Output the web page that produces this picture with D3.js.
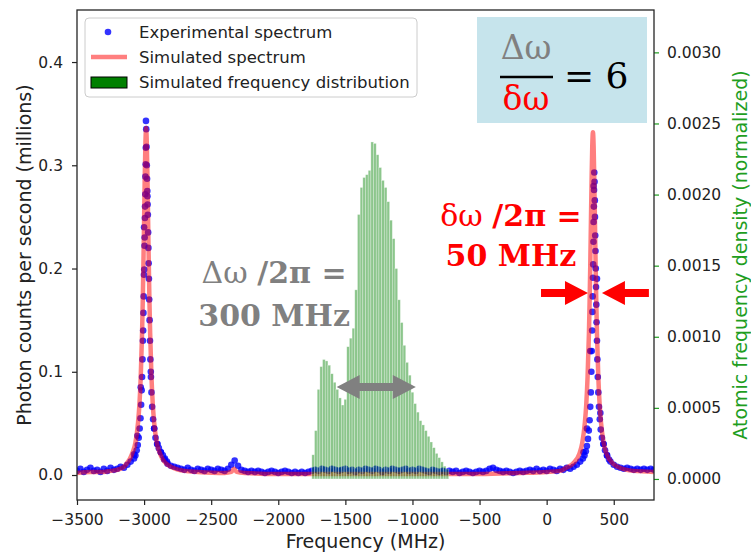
<!DOCTYPE html>
<html>
<head>
<meta charset="utf-8">
<script src="https://cdn.jsdelivr.net/npm/d3@7"></script>
<style>
  body { margin: 0; background: #fff; }
  text { font-family: "DejaVu Sans", sans-serif; }
</style>
</head>
<body>
<div id="chart"></div>
<script>
// ---- data ----

// experimental sweep, one point every 25 MHz from -3500 to 800 MHz
var sweepStart = -3500, sweepStep = 25;
var expSweepCounts = [
  0.004, 0.006, 0.003, 0.005, 0.007, 0.004, 0.005, 0.003,
  0.006, 0.004, 0.007, 0.005, 0.006, 0.008, 0.007, 0.010,
  0.013, 0.020, 0.038, 0.085, 0.240, 0.270, 0.100, 0.045,
  0.030, 0.022, 0.015, 0.011, 0.009, 0.008, 0.007, 0.006,
  0.005, 0.007, 0.005, 0.004, 0.006, 0.005, 0.004, 0.006,
  0.005, 0.004, 0.006, 0.005, 0.004, 0.006, 0.010, 0.014,
  0.009, 0.005, 0.004, 0.003, 0.004, 0.003, 0.004, 0.003,
  0.002, 0.003, 0.004, 0.003, 0.002, 0.003, 0.004, 0.003,
  0.002, 0.003, 0.002, 0.003, 0.002, 0.003, 0.004, 0.005,
  0.004, 0.006, 0.005, 0.004, 0.006, 0.005, 0.004, 0.005,
  0.006, 0.004, 0.005, 0.003, 0.005, 0.004, 0.006, 0.005,
  0.004, 0.006, 0.005, 0.003, 0.005, 0.004, 0.006, 0.005,
  0.004, 0.005, 0.006, 0.004, 0.005, 0.004, 0.006, 0.005,
  0.004, 0.003, 0.005, 0.004, 0.003, 0.004, 0.003, 0.004,
  0.003, 0.004, 0.002, 0.003, 0.004, 0.003, 0.002, 0.003,
  0.004, 0.003, 0.004, 0.006, 0.007, 0.005, 0.004, 0.003,
  0.004, 0.003, 0.002, 0.003, 0.004, 0.003, 0.004, 0.005,
  0.004, 0.006, 0.004, 0.005, 0.004, 0.006, 0.005, 0.004,
  0.006, 0.005, 0.007, 0.006, 0.008, 0.010, 0.013, 0.022,
  0.045, 0.120, 0.280, 0.190, 0.060, 0.030, 0.019, 0.013,
  0.010, 0.008, 0.007, 0.006, 0.007, 0.006, 0.005, 0.006,
  0.005, 0.006, 0.005, 0.006, 0.005
];

// fine scans over the two resonances [MHz, millions of counts/s]
var leftPeakScan = [
  [-3075, 0.016], [-3065, 0.019], [-3055, 0.024], [-3047, 0.029], [-3040, 0.036],
  [-3033, 0.045], [-3027, 0.055], [-3022, 0.068], [-3018, 0.082], [-3015, 0.095],
  [-3012, 0.112], [-3009, 0.130], [-3007, 0.140], [-3005, 0.157], [-3003, 0.173],
  [-3001, 0.194], [-2999, 0.199], [-2997, 0.222], [-2996, 0.230], [-2994, 0.249],
  [-2993, 0.260], [-2991, 0.272], [-2990, 0.289], [-2988, 0.301], [-2987, 0.317],
  [-2986, 0.343], [-2984, 0.335], [-2982, 0.318], [-2980, 0.300], [-2978, 0.287],
  [-2976, 0.275], [-2974, 0.262], [-2972, 0.252], [-2970, 0.235], [-2968, 0.220],
  [-2966, 0.205], [-2964, 0.190], [-2962, 0.170], [-2959, 0.150], [-2956, 0.130],
  [-2953, 0.112], [-2949, 0.095], [-2945, 0.080], [-2940, 0.066], [-2933, 0.054],
  [-2925, 0.045], [-2915, 0.036], [-2903, 0.030], [-2890, 0.026], [-2875, 0.022],
  [-2860, 0.019], [-2845, 0.016], [-2830, 0.013]
];
var rightPeakScan = [
  [270, 0.016], [282, 0.019], [292, 0.023], [300, 0.028], [308, 0.035],
  [314, 0.043], [320, 0.053], [325, 0.066], [329, 0.080], [333, 0.100],
  [336, 0.120], [339, 0.140], [341, 0.158], [343, 0.173], [345, 0.191],
  [347, 0.204], [349, 0.226], [350, 0.245], [352, 0.260], [353, 0.276],
  [355, 0.293], [357, 0.284], [359, 0.266], [360, 0.250], [362, 0.232],
  [364, 0.217], [366, 0.200], [368, 0.182], [370, 0.165], [372, 0.148],
  [375, 0.130], [378, 0.112], [381, 0.095], [385, 0.080], [390, 0.066],
  [396, 0.054], [403, 0.044], [412, 0.036], [422, 0.030], [435, 0.024],
  [450, 0.019], [465, 0.015]
];

// simulated spectrum [MHz, millions of counts/s]
var simSpectrum = [
  [-3500, 0.002], [-3400, 0.003], [-3300, 0.003], [-3250, 0.004], [-3200, 0.005],
  [-3150, 0.008], [-3125, 0.012], [-3105, 0.016], [-3085, 0.022], [-3065, 0.031],
  [-3045, 0.051], [-3035, 0.068], [-3025, 0.095], [-3015, 0.138], [-3010, 0.168],
  [-3005, 0.205], [-3000, 0.246], [-2995, 0.289], [-2990, 0.322], [-2985, 0.336],
  [-2980, 0.322], [-2975, 0.289], [-2970, 0.246], [-2965, 0.205], [-2960, 0.168],
  [-2955, 0.138], [-2945, 0.095], [-2935, 0.068], [-2925, 0.051], [-2905, 0.031],
  [-2885, 0.022], [-2865, 0.016], [-2835, 0.011], [-2785, 0.007], [-2700, 0.004],
  [-2600, 0.003], [-2400, 0.002], [-2350, 0.003], [-2330, 0.006], [-2310, 0.003],
  [-2250, 0.002], [-2000, 0.001], [-1500, 0.001], [-1000, 0.001], [-500, 0.001],
  [-200, 0.002], [0, 0.003], [100, 0.004], [145, 0.007], [195, 0.011],
  [245, 0.021], [265, 0.031], [285, 0.051], [295, 0.068], [305, 0.095],
  [315, 0.137], [320, 0.167], [325, 0.203], [330, 0.245], [335, 0.286],
  [340, 0.319], [345, 0.332], [350, 0.319], [355, 0.286], [360, 0.245],
  [365, 0.203], [370, 0.167], [375, 0.137], [385, 0.095], [395, 0.068],
  [405, 0.051], [425, 0.031], [445, 0.021], [495, 0.011], [545, 0.007],
  [645, 0.004], [800, 0.003]
];

// simulated frequency distribution: 20 MHz bins starting at these edges
var histBinWidth = 20;
var histBinEdges = [
  -1750, -1730, -1710, -1690, -1670, -1650, -1630, -1610, -1590, -1570,
  -1550, -1530, -1510, -1490, -1470, -1450, -1430, -1410, -1390, -1370,
  -1350, -1330, -1310, -1290, -1270, -1250, -1230, -1210, -1190, -1170,
  -1150, -1130, -1110, -1090, -1070, -1050, -1030, -1010, -990, -970,
  -950, -930, -910, -890, -870, -850, -830, -810, -790, -770, -750
];
var histDensity = [
  0.00017, 0.00034, 0.00063, 0.00079, 0.00084, 0.00083, 0.00080, 0.00074, 0.00068, 0.00063,
  0.00057, 0.00052, 0.00056, 0.00093, 0.00099, 0.00106, 0.00133, 0.00186, 0.00205, 0.00212,
  0.00214, 0.00217, 0.00237, 0.00236, 0.00228, 0.00219, 0.00210, 0.00205, 0.00195, 0.00182,
  0.00169, 0.00148, 0.00126, 0.00110, 0.00094, 0.00082, 0.00073, 0.00061, 0.00053, 0.00047,
  0.00041, 0.00038, 0.00034, 0.00030, 0.00026, 0.00022, 0.00018, 0.00015, 0.00012, 0.00009,
  0.00007
];

// ticks
var xTicks = [-3500, -3000, -2500, -2000, -1500, -1000, -500, 0, 500];
var yLeftTicks = [0.0, 0.1, 0.2, 0.3, 0.4];
var yRightTicks = [0.0000, 0.0005, 0.0010, 0.0015, 0.0020, 0.0025, 0.0030];

// ---- layout ----
var svgWidth = 751;
var svgHeight = 554;
var margin = { top: 10, right: 97, bottom: 54, left: 77 };
var width = svgWidth - margin.left - margin.right;
var height = svgHeight - margin.top - margin.bottom;

var tickFont = 15.5, labelFont = 19;
var green = "#1f9e1f";

var svg = d3.select("#chart")
  .append("svg")
  .attr("width", svgWidth)
  .attr("height", svgHeight);

var chartGroup = svg.append("g")
  .attr("transform", `translate(${margin.left}, ${margin.top})`);

chartGroup.append("clipPath").attr("id", "plotClip")
  .append("rect").attr("width", width).attr("height", height);

// scales
var xScale = d3.scaleLinear().domain([-3500, 800]).range([0, width]);
var yLeft = d3.scaleLinear().domain([-0.0242, 0.4504]).range([height, 0]);
var yRight = d3.scaleLinear().domain([-0.000148, 0.003298]).range([height, 0]);

// experimental points
var expPoints = expSweepCounts.map(function(c, i) { return [sweepStart + i * sweepStep, c]; })
  .concat(leftPeakScan, rightPeakScan);

var plot = chartGroup.append("g").attr("clip-path", "url(#plotClip)");

plot.selectAll(".expDot")
  .data(expPoints)
  .enter()
  .append("circle")
  .attr("class", "expDot")
  .attr("cx", d => xScale(d[0]))
  .attr("cy", d => yLeft(d[1]))
  .attr("r", 3.3)
  .attr("fill", "blue")
  .attr("opacity", 0.8);

// simulated spectrum line
var simLine = d3.line()
  .x(d => xScale(d[0]))
  .y(d => yLeft(d[1]))
  .curve(d3.curveMonotoneX);

plot.append("path")
  .datum(simSpectrum)
  .attr("d", simLine)
  .attr("fill", "none")
  .attr("stroke", "red")
  .attr("stroke-opacity", 0.5)
  .attr("stroke-width", 4.5)
  .attr("stroke-linejoin", "round");

// histogram on the twin axis
plot.selectAll(".histBar")
  .data(histDensity)
  .enter()
  .append("rect")
  .attr("class", "histBar")
  .attr("x", (d, i) => xScale(histBinEdges[i]))
  .attr("width", (d, i) => xScale(histBinEdges[i] + histBinWidth) - xScale(histBinEdges[i]))
  .attr("y", d => yRight(d))
  .attr("height", d => yRight(0) - yRight(d))
  .attr("fill", "green")
  .attr("fill-opacity", 0.45)
  .attr("stroke", "#ffffff")
  .attr("stroke-opacity", 0.5)
  .attr("stroke-width", 0.6);

// axes
var bottomAxis = d3.axisBottom(xScale).tickValues(xTicks).tickSize(5).tickPadding(9)
  .tickFormat(d3.format("d"));
var leftAxis = d3.axisLeft(yLeft).tickValues(yLeftTicks).tickSize(5).tickPadding(9)
  .tickFormat(d3.format(".1f"));
var rightAxis = d3.axisRight(yRight).tickValues(yRightTicks).tickSize(5).tickPadding(8)
  .tickFormat(d3.format(".4f"));

function styleAxis(g, tickColor) {
  g.select(".domain").remove();
  g.selectAll(".tick line").attr("stroke", tickColor).attr("stroke-width", 1.2);
  g.selectAll(".tick text").attr("fill", "#222").style("font-size", tickFont + "px")
    .style("font-family", "DejaVu Sans");
}

chartGroup.append("g")
  .attr("transform", `translate(0, ${height})`)
  .call(bottomAxis)
  .call(g => styleAxis(g, "#222"));

chartGroup.append("g")
  .call(leftAxis)
  .call(g => styleAxis(g, "#222"));

chartGroup.append("g")
  .attr("transform", `translate(${width}, 0)`)
  .call(rightAxis)
  .call(g => styleAxis(g, green));

// frame
chartGroup.append("rect")
  .attr("width", width).attr("height", height)
  .attr("fill", "none").attr("stroke", "#262626").attr("stroke-width", 1.3);

// axis labels
chartGroup.append("text")
  .attr("transform", `translate(${24 - margin.left}, ${height / 2}) rotate(-90)`)
  .attr("dy", "0.35em")
  .style("text-anchor", "middle")
  .style("font-size", labelFont + "px")
  .attr("fill", "#222")
  .text("Photon counts per second (millions)");

chartGroup.append("text")
  .attr("transform", `translate(${width / 2}, ${height + 41})`)
  .attr("dy", "0.35em")
  .style("text-anchor", "middle")
  .style("font-size", labelFont + "px")
  .attr("fill", "#222")
  .text("Frequency (MHz)");

chartGroup.append("text")
  .attr("transform", `translate(${width + 86}, ${height / 2}) rotate(-90)`)
  .attr("dy", "0.35em")
  .style("text-anchor", "middle")
  .style("font-size", labelFont + "px")
  .attr("fill", green)
  .text("Atomic frequency density (normalized)");

// ---- annotations ----
var serif = "DejaVu Serif";

function arrow(g, x1, x2, y, color, both) {
  // horizontal block arrow pointing from x1 to x2 (heads at both ends if both)
  var hl = 23, hw = 12, sw = 4;
  var dir = x2 > x1 ? 1 : -1;
  var pts;
  if (both) {
    pts = [[x1, y], [x1 + dir * hl, y - hw], [x1 + dir * hl, y - sw], [x2 - dir * hl, y - sw],
      [x2 - dir * hl, y - hw], [x2, y], [x2 - dir * hl, y + hw], [x2 - dir * hl, y + sw],
      [x1 + dir * hl, y + sw], [x1 + dir * hl, y + hw]];
  } else {
    pts = [[x1, y - sw], [x2 - dir * hl, y - sw], [x2 - dir * hl, y - hw], [x2, y],
      [x2 - dir * hl, y + hw], [x2 - dir * hl, y + sw], [x1, y + sw]];
  }
  g.append("polygon").attr("points", pts.map(p => p.join(",")).join(" ")).attr("fill", color);
}

// gray width arrow across the distribution
arrow(chartGroup, xScale(-1565), xScale(-975), yLeft(0.0852), "#808080", true);
// red arrows around the right resonance
arrow(chartGroup, xScale(-42), xScale(308), yLeft(0.1763), "red", false);
arrow(chartGroup, xScale(762), xScale(412), yLeft(0.1763), "red", false);

// gray text
var grayText = chartGroup.append("text")
  .attr("x", xScale(-2031)).attr("y", yLeft(0.1864))
  .style("text-anchor", "middle").style("font-family", serif).style("font-size", "30px")
  .attr("fill", "#808080");
grayText.append("tspan").text("Δω ");
grayText.append("tspan").style("font-weight", "bold").text("/2π =");

chartGroup.append("text")
  .attr("x", xScale(-2031)).attr("y", yLeft(0.1448))
  .style("text-anchor", "middle").style("font-family", serif).style("font-size", "30px")
  .style("font-weight", "bold").attr("fill", "#808080")
  .text("300 MHz");

// red text
var redText = chartGroup.append("text")
  .attr("x", xScale(-266)).attr("y", yLeft(0.2408))
  .style("text-anchor", "middle").style("font-family", serif).style("font-size", "30px")
  .attr("fill", "red");
redText.append("tspan").text("δω ");
redText.append("tspan").style("font-weight", "bold").text("/2π =");

chartGroup.append("text")
  .attr("x", xScale(-266)).attr("y", yLeft(0.2022))
  .style("text-anchor", "middle").style("font-family", serif).style("font-size", "30px")
  .style("font-weight", "bold").attr("fill", "red")
  .text("50 MHz");

// ratio box (top right)
var box = svg.append("g");
box.append("rect")
  .attr("x", 477).attr("y", 17).attr("width", 170).attr("height", 106)
  .attr("fill", "#c6e4ec");
box.append("text")
  .attr("x", 526).attr("y", 59)
  .style("text-anchor", "middle").style("font-family", serif).style("font-size", "33px")
  .attr("fill", "#808080").text("Δω");
box.append("line")
  .attr("x1", 500).attr("x2", 553).attr("y1", 77).attr("y2", 77)
  .attr("stroke", "#000").attr("stroke-width", 2.5);
box.append("text")
  .attr("x", 526).attr("y", 110)
  .style("text-anchor", "middle").style("font-family", serif).style("font-size", "33px")
  .attr("fill", "red").text("δω");
box.append("text")
  .attr("x", 564).attr("y", 88)
  .style("font-family", serif).style("font-size", "36px")
  .attr("fill", "#000").text("= 6");

// legend
var legend = svg.append("g");
legend.append("rect")
  .attr("x", 85).attr("y", 18).attr("width", 332).attr("height", 79).attr("rx", 4)
  .attr("fill", "#fff").attr("fill-opacity", 0.8)
  .attr("stroke", "#cccccc").attr("stroke-width", 1);
legend.append("circle").attr("cx", 108).attr("cy", 32).attr("r", 3.3)
  .attr("fill", "blue").attr("opacity", 0.8);
legend.append("line").attr("x1", 91).attr("x2", 127).attr("y1", 57).attr("y2", 57)
  .attr("stroke", "red").attr("stroke-opacity", 0.5).attr("stroke-width", 4.5);
legend.append("rect").attr("x", 91).attr("y", 77).attr("width", 36).attr("height", 11)
  .attr("fill", "green").attr("stroke", "#000").attr("stroke-width", 1);

var legendLabels = ["Experimental spectrum", "Simulated spectrum", "Simulated frequency distribution"];
legend.selectAll(".legendText")
  .data(legendLabels)
  .enter()
  .append("text")
  .attr("x", 139)
  .attr("y", (d, i) => 32 + i * 25)
  .attr("dy", "0.35em")
  .style("font-size", "16.5px")
  .attr("fill", "#222")
  .text(d => d);
</script>
</body>
</html>
